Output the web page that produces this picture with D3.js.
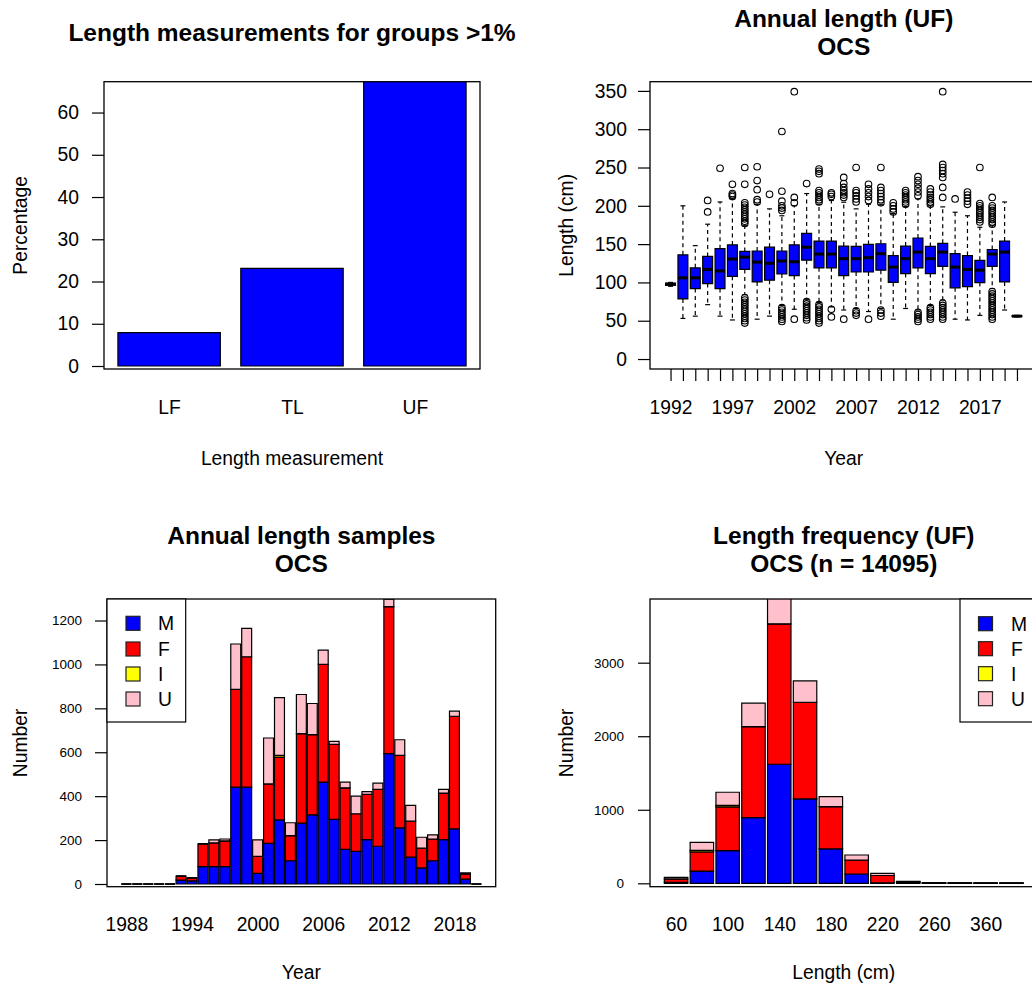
<!DOCTYPE html>
<html>
<head>
<meta charset="utf-8">
<script src="https://cdn.jsdelivr.net/npm/d3@7"></script>
<style>
  body { margin: 0; background: #fff; }
  svg { display: block; font-family: "Liberation Sans", Arial, sans-serif; }
</style>
</head>
<body>
<div id="chart"></div>
<script>
// ---- panel 1: share of each length measurement
const measureTypes = ['LF', 'TL', 'UF'];
const measurePct   = [7.9, 23.1, 68];

// ---- panel 2: annual UF length boxplots
const boxYears = [1992,1993,1994,1995,1996,1997,1998,1999,2000,2001,2002,2003,2004,2005,2006,
                  2007,2008,2009,2010,2011,2012,2013,2014,2015,2016,2017,2018,2019,2020];
const boxLo  = [95,53,56,71,56,51,84,52,56,70,65,78,74,68,64,66,62,66,52,66,64,70,77,52,51,57,92,64,55];
const boxQ1  = [96,78.5,92,98.5,92,108,117,100.6,103,111,109,129,119,119,109,113.6,113.6,116,100,111.6,
                119,111.6,121,93,94.6,99.8,121,100.6,55.5];
const boxMed = [97.5,106,106,117,115,130.5,133,126.6,125,128,127,146,137,137,131,131,132.3,137.5,120,131,
                139.6,131,139.6,120,117,116,137,139.6,56];
const boxQ3  = [99,136,119,134,144,149,140.5,141,146,141,149,164,154,154,147.4,147,149.6,150.5,135,147.4,
                158,147,151,137.5,135,128.8,143,154,56.5];
const boxHi  = [100,200,148,176,205,209,174,202,196,187,200,216,202,207,204.7,196,202,202,190,199,
                209,200,198.6,191.6,187,172,174,205,57];
const boxOut = [
  [], [], [],
  [192,207],
  [249],
  [212,214,216,228],
  [177,180,183,186,189,192,195,198,201,204,228,250,47,50,53,56,59,62,65,68,71,74,77,80],
  [205,208,221,233,251],
  [215],
  [194,197,200,206,219,297,49,52,55,58,61,64,67],
  [204,211,349,52],
  [229,51,54,57,60,63,66,69,72,75],
  [205,208,211,214,217,220,242,245,248,47,50,53,56,59,62,65,68,71],
  [212,215,217,55,65],
  [211,214,217,220,224,229,237,52],
  [205,209,213,217,220,250,57,60,63],
  [207,212,217,222,228,52],
  [204,208,212,216,220,224,250,56,60,64],
  [192,196,200,204],
  [202,205,208,211,214,217,220],
  [213,218,223,228,233,238,49,52,55,58,61],
  [202,205,208,211,214,218,222,52,55,58,61,64,67],
  [211,224,237,242,246,250,254,349,52,55,58,61,64,67,70,73],
  [209],
  [202,206,210,214,218],
  [179,182,185,188,191,194,197,200,203,250],
  [176,179,182,185,188,191,194,197,200,211,52,55,58,61,64,67,70,73,76,79,82,85,88],
  [], []
];

// ---- panel 3: annual samples by sex
const sampleYears = [1988,1989,1990,1991,1992,1993,1994,1995,1996,1997,1998,1999,2000,2001,2002,2003,2004,
                     2005,2006,2007,2008,2009,2010,2011,2012,2013,2014,2015,2016,2017,2018,2019,2020];
const sampleM = [0,0,0,0,0,18,14,79,79,79,441,441,48,185,292,106,277,315,464,294,158,149,202,172,594,256,122,73,106,202,251,22,0];
const sampleF = [0,0,0,0,0,18,14,104,108,117,445,594,78,271,286,114,408,365,536,342,280,171,206,259,669,330,164,91,99,212,513,24,0];
const sampleI = [0,0,0,0,0,0,0,0,0,0,0,0,0,0,8,0,0,0,0,0,0,0,0,0,0,0,0,0,0,0,0,0,0];
const sampleU = [0,0,0,0,0,0,0,0,14,9,207,129,75,209,263,59,178,142,65,14,26,80,13,28,34,71,72,49,19,17,23,5,0];

// ---- panel 4: UF length frequency by sex
const lenBins = ['60','80','100','120','140','160','180','200','220','240','260','300','360','380'];
const lenM = [12,167,444,893,1619,1147,467,127,8,8,3,2,2,2];
const lenF = [48,260,596,1238,1909,1315,575,190,98,14,4,2,1,1];
const lenI = [0,20,20,0,0,0,0,0,0,0,0,0,0,0];
const lenU = [20,111,178,318,360,290,136,68,28,6,1,1,1,1];

const sexKeys   = ['M', 'F', 'I', 'U'];
const sexColors = ['#0000ff', '#ff0000', '#ffff00', '#ffc0cb'];

const FONT = '"Liberation Sans", Arial, sans-serif';
const FS = 19.3, FS_SMALL = 13.5, FS_TITLE = 24.5;

const svg = d3.select('#chart').append('svg')
  .attr('width', 1032).attr('height', 990);
svg.append('rect').attr('width', 1032).attr('height', 990).attr('fill', '#fff');

const rectPath = (x0, x1, y0, y1) => `M${x0},${y0}H${x1}V${y1}H${x0}Z`;

function clip(id, x0, x1, y0, y1) {
  svg.append('clipPath').attr('id', id).append('rect')
    .attr('x', x0).attr('y', y0).attr('width', x1 - x0).attr('height', y1 - y0);
}
function frame(x0, x1, y0, y1) {
  svg.append('rect')
    .attr('x', x0).attr('y', y0).attr('width', x1 - x0).attr('height', y1 - y0)
    .attr('fill', 'none').attr('stroke', '#000').attr('stroke-width', 1.3);
}
function title(lines, cx, y) {
  lines.forEach((t, i) => svg.append('text')
    .attr('x', cx).attr('y', y + i * 28).attr('dy', '0.35em')
    .attr('text-anchor', 'middle').attr('font-weight', 'bold')
    .attr('font-size', FS_TITLE).text(t));
}
function xLabel(t, cx, cy) {
  svg.append('text').attr('x', cx).attr('y', cy).attr('dy', '0.35em')
    .attr('text-anchor', 'middle').attr('font-size', FS).text(t);
}
function yLabel(t, cx, cy) {
  svg.append('text').attr('transform', `translate(${cx},${cy}) rotate(-90)`)
    .attr('dy', '0.35em').attr('text-anchor', 'middle').attr('font-size', FS).text(t);
}
function styleAxis(g, fs) {
  g.select('.domain').remove();
  g.attr('font-family', FONT);
  g.selectAll('.tick line').attr('stroke', '#000').attr('stroke-width', 1.2);
  g.selectAll('.tick text').attr('font-size', fs).attr('fill', '#000');
}
function legend(x0, x1, y0, y1, sqX, txtX, rowY) {
  svg.append('rect').attr('x', x0).attr('y', y0).attr('width', x1 - x0).attr('height', y1 - y0)
    .attr('fill', '#fff').attr('stroke', '#000').attr('stroke-width', 1.2);
  sexKeys.forEach((k, i) => {
    svg.append('rect').attr('x', sqX).attr('y', rowY[i] - 7).attr('width', 14).attr('height', 14)
      .attr('fill', sexColors[i]).attr('stroke', '#222').attr('stroke-width', 1.2);
    svg.append('text').attr('x', txtX).attr('y', rowY[i]).attr('dy', '0.36em')
      .attr('font-size', FS).text(k);
  });
}

// ================= panel 1 =================
;(function(){
  const L = 104, R = 480, T = 81.7, B = 369;
  const x = d3.scaleLinear().domain([0.064, 3.736]).range([L, R]);
  const y = d3.scaleLinear().domain([-0.71, 67.3]).range([B, T]);
  clip('c1', L, R, T, B);

  svg.append('g').attr('clip-path', 'url(#c1)')
    .selectAll('path').data(measurePct).enter().append('path')
      .attr('d', (d, i) => rectPath(x(0.2 + 1.2 * i), x(1.2 + 1.2 * i), y(0), y(d)))
      .attr('fill', '#0000ff').attr('stroke', '#000').attr('stroke-width', 1.2);

  svg.append('g').attr('transform', `translate(${L},0)`)
    .call(d3.axisLeft(y).tickValues([0, 10, 20, 30, 40, 50, 60]).tickSize(12).tickPadding(13))
    .call(g => styleAxis(g, FS));

  svg.append('g').attr('transform', `translate(0,${B})`)
    .call(d3.axisBottom(x).tickValues(measureTypes.map((d, i) => 0.7 + 1.2 * i))
      .tickFormat((d, i) => measureTypes[i]).tickSize(0).tickPadding(31))
    .call(g => styleAxis(g, FS));

  frame(L, R, T, B);
  title(['Length measurements for groups >1%'], (L + R) / 2, 32);
  xLabel('Length measurement', (L + R) / 2, 458);
  yLabel('Percentage', 20, (T + B) / 2);
})();

// ================= panel 2 =================
;(function(){
  const L = 650, R = 1037.5, T = 81.7, B = 369;
  const x = d3.scaleLinear().domain([1990.34, 2021.66]).range([L, R]);
  const y = d3.scaleLinear().domain([-13, 362]).range([B, T]);
  const hw = (x(1) - x(0)) * 0.4;

  const g = svg.append('g');
  boxYears.forEach((yr, i) => {
    const cx = x(yr);
    // whiskers
    g.append('line').attr('x1', cx).attr('x2', cx).attr('y1', y(boxQ3[i])).attr('y2', y(boxHi[i]))
      .attr('stroke', '#000').attr('stroke-width', 1.2).attr('stroke-dasharray', '4,3.5');
    g.append('line').attr('x1', cx).attr('x2', cx).attr('y1', y(boxQ1[i])).attr('y2', y(boxLo[i]))
      .attr('stroke', '#000').attr('stroke-width', 1.2).attr('stroke-dasharray', '4,3.5');
    // staples
    [boxLo[i], boxHi[i]].forEach(v => g.append('line')
      .attr('x1', cx - hw / 2).attr('x2', cx + hw / 2).attr('y1', y(v)).attr('y2', y(v))
      .attr('stroke', '#000').attr('stroke-width', 1.2));
    // box and median
    g.append('path').attr('d', rectPath(cx - hw, cx + hw, y(boxQ3[i]), y(boxQ1[i])))
      .attr('fill', '#0000ff').attr('stroke', '#000').attr('stroke-width', 1.2);
    g.append('line').attr('x1', cx - hw).attr('x2', cx + hw)
      .attr('y1', y(boxMed[i])).attr('y2', y(boxMed[i]))
      .attr('stroke', '#000').attr('stroke-width', 3);
    // outliers
    g.selectAll(null).data(boxOut[i]).enter().append('circle')
      .attr('cx', cx).attr('cy', d => y(d)).attr('r', 3.3)
      .attr('fill', 'none').attr('stroke', '#000').attr('stroke-width', 1.1);
  });

  svg.append('g').attr('transform', `translate(${L},0)`)
    .call(d3.axisLeft(y).tickValues(d3.range(0, 351, 50)).tickSize(12).tickPadding(11))
    .call(g => styleAxis(g, FS));

  svg.append('g').attr('transform', `translate(0,${B})`)
    .call(d3.axisBottom(x).tickValues(boxYears)
      .tickFormat(d => (d - 1992) % 5 === 0 ? d : '').tickSize(12).tickPadding(19))
    .call(g => styleAxis(g, FS));

  frame(L, R, T, B);
  title(['Annual length (UF)', 'OCS'], (L + R) / 2, 18);
  xLabel('Year', (L + R) / 2, 458);
  yLabel('Length (cm)', 566, (T + B) / 2);
})();

// stacked bars helper for panels 3 and 4
function stackedBars(id, rows, x, y) {
  const series = d3.stack().keys(sexKeys)(rows);
  svg.append('g').attr('clip-path', `url(#${id})`)
    .selectAll('g').data(series).enter().append('g')
      .attr('fill', (d, i) => sexColors[i])
    .selectAll('path').data(d => d).enter().append('path')
      .attr('d', (d, i) => rectPath(x(0.1 + 1.1 * i), x(1.1 + 1.1 * i), y(d[0]), y(d[1])))
      .attr('stroke', '#000').attr('stroke-width', 1.2);
}

// ================= panel 3 =================
;(function(){
  const L = 107, R = 495.7, T = 599, B = 886.7;
  const x = d3.scaleLinear().domain([-1.348, 37.748]).range([L, R]);
  const y = d3.scaleLinear().domain([-12.3, 1298]).range([B, T]);
  clip('c3', L, R, T, B);

  const rows = sampleYears.map((yr, i) => ({ M: sampleM[i], F: sampleF[i], I: sampleI[i], U: sampleU[i] }));
  stackedBars('c3', rows, x, y);

  svg.append('g').attr('transform', `translate(${L},0)`)
    .call(d3.axisLeft(y).tickValues(d3.range(0, 1201, 200)).tickFormat(d3.format('d'))
      .tickSize(12).tickPadding(13))
    .call(g => styleAxis(g, FS_SMALL));

  const labIdx = sampleYears.map((d, i) => i).filter(i => (sampleYears[i] - 1988) % 6 === 0);
  svg.append('g').attr('transform', `translate(0,${B})`)
    .call(d3.axisBottom(x).tickValues(labIdx.map(i => 0.6 + 1.1 * i))
      .tickFormat((d, k) => sampleYears[labIdx[k]]).tickSize(0).tickPadding(31))
    .call(g => styleAxis(g, FS));

  frame(L, R, T, B);
  legend(L, 185.7, T, 722, 126, 158, [623.3, 649, 674, 699]);
  title(['Annual length samples', 'OCS'], (L + R) / 2, 535);
  xLabel('Year', (L + R) / 2, 972);
  yLabel('Number', 20, (T + B) / 2);
})();

// ================= panel 4 =================
;(function(){
  const L = 650, R = 1037.5, T = 599, B = 886.7;
  const x = d3.scaleLinear().domain([-0.512, 16.012]).range([L, R]);
  const y = d3.scaleLinear().domain([-46, 3866]).range([B, T]);
  clip('c4', L, R, T, B);

  const rows = lenBins.map((b, i) => ({ M: lenM[i], F: lenF[i], I: lenI[i], U: lenU[i] }));
  stackedBars('c4', rows, x, y);

  svg.append('g').attr('transform', `translate(${L},0)`)
    .call(d3.axisLeft(y).tickValues([0, 1000, 2000, 3000]).tickFormat(d3.format('d'))
      .tickSize(12).tickPadding(14))
    .call(g => styleAxis(g, FS_SMALL));

  const labIdx = lenBins.map((d, i) => i).filter(i => i % 2 === 0);
  svg.append('g').attr('transform', `translate(0,${B})`)
    .call(d3.axisBottom(x).tickValues(labIdx.map(i => 0.6 + 1.1 * i))
      .tickFormat((d, k) => lenBins[labIdx[k]]).tickSize(0).tickPadding(31))
    .call(g => styleAxis(g, FS));

  frame(L, R, T, B);
  legend(960, R, T, 722, 978.5, 1011, [623.7, 648.7, 673.7, 698.7]);
  title(['Length frequency (UF)', 'OCS (n = 14095)'], (L + R) / 2, 535);
  xLabel('Length (cm)', (L + R) / 2, 972);
  yLabel('Number', 566, (T + B) / 2);
})();
</script>
</body>
</html>
